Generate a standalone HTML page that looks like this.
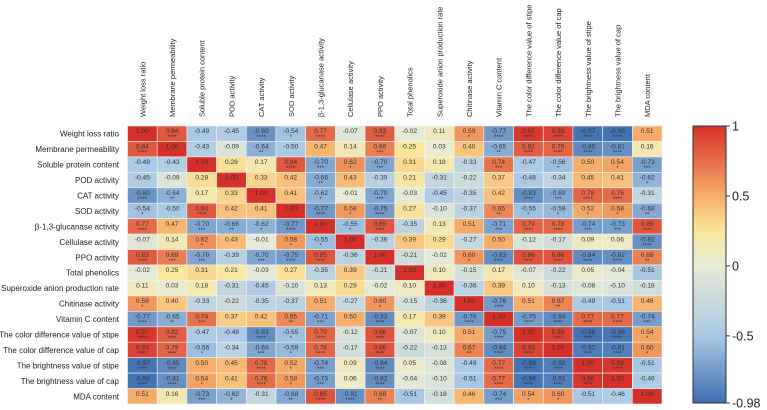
<!DOCTYPE html>
<html><head><meta charset="utf-8">
<style>
html,body{margin:0;padding:0;background:#fff;}
svg{display:block;font-family:"Liberation Sans",Arial,sans-serif;}
</style></head>
<body>
<svg id="chart" width="767" height="410" viewBox="0 0 767 410" xmlns="http://www.w3.org/2000/svg">
<defs>
<linearGradient id="cbgrad" x1="0" y1="0" x2="0" y2="1">
<stop offset="0" stop-color="#d6302a"/>
<stop offset="0.253" stop-color="#f6ae6a"/>
<stop offset="0.38" stop-color="#fbe59b"/>
<stop offset="0.505" stop-color="#e8ebd6"/>
<stop offset="0.757" stop-color="#a9c9e5"/>
<stop offset="1" stop-color="#3f6fb0"/>
</linearGradient>
</defs>
<g id="cells"></g>
<g id="collabels"></g>
<g id="rowlabels"></g>
<g>
<rect x="693" y="126" width="33" height="277" fill="url(#cbgrad)" stroke="#333" stroke-width="1"/>
</g>
<g id="cbticks"></g>
</svg>
<script>
const labels = ["Weight loss ratio","Membrane permeability","Soluble protein content","POD activity","CAT activity","SOD activity","β-1,3-glucanase activity","Cellulase activity","PPO activity","Total phenolics","Superoxide anion production rate","Chitinase activity","Vitamin C content","The color difference value of stipe","The color difference value of cap","The brightness value of stipe","The brightness value of cap","MDA content"];
const corr = [
[1.00,0.84,-0.49,-0.45,-0.80,-0.54,0.77,-0.07,0.83,-0.02,0.11,0.59,-0.77,0.97,0.93,-0.97,-0.98,0.51],
[0.84,1.00,-0.43,-0.09,-0.64,-0.50,0.47,0.14,0.69,0.25,0.03,0.40,-0.65,0.82,0.79,-0.85,-0.81,0.16],
[-0.49,-0.43,1.00,0.28,0.17,0.84,-0.70,0.62,-0.70,0.31,0.18,-0.33,0.74,-0.47,-0.56,0.50,0.54,-0.73],
[-0.45,-0.09,0.28,1.00,0.33,0.42,-0.66,0.43,-0.39,0.21,-0.31,-0.22,0.37,-0.48,-0.34,0.45,0.41,-0.62],
[-0.80,-0.64,0.17,0.33,1.00,0.41,-0.62,-0.01,-0.70,-0.03,-0.45,-0.35,0.42,-0.83,-0.69,0.78,0.76,-0.31],
[-0.54,-0.50,0.84,0.42,0.41,1.00,-0.77,0.58,-0.75,0.27,-0.10,-0.37,0.65,-0.55,-0.59,0.52,0.58,-0.68],
[0.77,0.47,-0.70,-0.66,-0.62,-0.77,1.00,-0.55,0.85,-0.35,0.13,0.51,-0.71,0.79,0.78,-0.74,-0.73,0.85],
[-0.07,0.14,0.62,0.43,-0.01,0.58,-0.55,1.00,-0.36,0.39,0.29,-0.27,0.50,-0.12,-0.17,0.09,0.06,-0.81],
[0.83,0.69,-0.70,-0.39,-0.70,-0.75,0.85,-0.36,1.00,-0.21,-0.02,0.60,-0.83,0.86,0.86,-0.84,-0.82,0.68],
[-0.02,0.25,0.31,0.21,-0.03,0.27,-0.35,0.39,-0.21,1.00,0.10,-0.15,0.17,-0.07,-0.22,0.05,-0.04,-0.51],
[0.11,0.03,0.18,-0.31,-0.45,-0.10,0.13,0.29,-0.02,0.10,1.00,-0.36,0.39,0.10,-0.13,-0.08,-0.10,-0.18],
[0.59,0.40,-0.33,-0.22,-0.35,-0.37,0.51,-0.27,0.60,-0.15,-0.36,1.00,-0.76,0.51,0.67,-0.49,-0.51,0.46],
[-0.77,-0.65,0.74,0.37,0.42,0.65,-0.71,0.50,-0.83,0.17,0.39,-0.76,1.00,-0.75,-0.84,0.77,0.77,-0.74],
[0.97,0.82,-0.47,-0.48,-0.83,-0.55,0.79,-0.12,0.86,-0.07,0.10,0.51,-0.75,1.00,0.93,-0.98,-0.96,0.54],
[0.93,0.79,-0.56,-0.34,-0.69,-0.59,0.78,-0.17,0.86,-0.22,-0.13,0.67,-0.84,0.93,1.00,-0.92,-0.91,0.60],
[-0.97,-0.85,0.50,0.45,0.78,0.52,-0.74,0.09,-0.84,0.05,-0.08,-0.49,0.77,-0.98,-0.92,1.00,0.98,-0.51],
[-0.98,-0.81,0.54,0.41,0.76,0.58,-0.73,0.06,-0.82,-0.04,-0.10,-0.51,0.77,-0.96,-0.91,0.98,1.00,-0.46],
[0.51,0.16,-0.73,-0.62,-0.31,-0.68,0.85,-0.81,0.68,-0.51,-0.18,0.46,-0.74,0.54,0.60,-0.51,-0.46,1.00]
];
const cbTickValues = [1, 0.5, 0, -0.5, -0.98];
const cbTickLabels = ["1","0.5","0","-0.5","-0.98"];

const NS = "http://www.w3.org/2000/svg";
const X0 = 127.5, X1 = 662, Y0 = 126, Y1 = 404;
const n = labels.length;
const cw = (X1 - X0) / n, ch = (Y1 - Y0) / n;
function xPos(j){ return X0 + j * cw; }
function yPos(i){ return Y0 + i * ch; }
function cbY(v){ return 126 + (1 - v) / (1 - (-0.98)) * 277; }

const stops = [[-1,[63,111,176]],[-0.5,[169,201,229]],[0,[232,235,214]],[0.25,[251,229,155]],[0.5,[246,174,106]],[1,[214,48,42]]];
function color(v){
  for (let k = 0; k < stops.length - 1; k++) {
    const a = stops[k], b = stops[k+1];
    if (v <= b[0] || k === stops.length - 2) {
      let t = (v - a[0]) / (b[0] - a[0]); t = Math.max(0, Math.min(1, t));
      const c = a[1].map((x, i) => Math.round(x + (b[1][i] - x) * t));
      return "rgb(" + c.join(",") + ")";
    }
  }
}
function stars(v, diag){
  if (diag) return "";
  const a = Math.abs(v);
  if (a >= 0.75) return "****";
  if (a >= 0.69) return "***";
  if (a >= 0.64) return "**";
  if (a >= 0.52) return "*";
  return "";
}

const cells = document.getElementById("cells");
for (let i = 0; i < n; i++) {
  for (let j = 0; j < n; j++) {
    const v = corr[i][j];
    const r = document.createElementNS(NS, "rect");
    r.setAttribute("x", xPos(j)); r.setAttribute("y", yPos(i));
    r.setAttribute("width", cw); r.setAttribute("height", ch);
    r.setAttribute("fill", color(v));
    r.setAttribute("stroke", "#f2f2f2"); r.setAttribute("stroke-width", "0.6");
    
    
    cells.appendChild(r);
    const t = document.createElementNS(NS, "text");
    t.setAttribute("x", xPos(j) + cw / 2); t.setAttribute("y", yPos(i) + 7.2);
    t.setAttribute("text-anchor", "middle"); t.setAttribute("font-size", "6.6");
    t.setAttribute("fill", "#333");
    t.textContent = v.toFixed(2);
    
    
    cells.appendChild(t);
    const s = stars(v, i === j);
    if (s) {
      const st = document.createElementNS(NS, "text");
      st.setAttribute("x", xPos(j) + cw / 2); st.setAttribute("y", yPos(i) + 13.2);
      st.setAttribute("text-anchor", "middle"); st.setAttribute("font-size", "6");
      st.setAttribute("fill", "#333");
      st.textContent = s;
      
      
      cells.appendChild(st);
    }
  }
}
const colG = document.getElementById("collabels");
const rowG = document.getElementById("rowlabels");
for (let k = 0; k < n; k++) {
  const c = document.createElementNS(NS, "text");
  const cx = xPos(k) + cw / 2 + 3, cy = 117;
  c.setAttribute("x", cx); c.setAttribute("y", cy);
  c.setAttribute("transform", "rotate(-90 " + cx + " " + cy + ")");
  c.setAttribute("font-size", "7.5"); c.setAttribute("fill", "#222");
  c.textContent = labels[k];
  
  
  colG.appendChild(c);
  const r = document.createElementNS(NS, "text");
  r.setAttribute("x", 119); r.setAttribute("y", yPos(k) + ch / 2 + 3);
  r.setAttribute("text-anchor", "end");
  r.setAttribute("font-size", "8"); r.setAttribute("fill", "#222");
  r.textContent = labels[k];
  
  
  rowG.appendChild(r);
}
const cbG = document.getElementById("cbticks");
for (let k = 0; k < cbTickValues.length; k++) {
  const y = cbY(cbTickValues[k]);
  const l = document.createElementNS(NS, "line");
  l.setAttribute("x1", 726); l.setAttribute("x2", 730);
  l.setAttribute("y1", y); l.setAttribute("y2", y);
  l.setAttribute("stroke", "#333"); l.setAttribute("stroke-width", "1");
  
  
  cbG.appendChild(l);
  const t = document.createElementNS(NS, "text");
  t.setAttribute("x", 732); t.setAttribute("y", y + 4.5);
  t.setAttribute("font-size", "12.5"); t.setAttribute("fill", "#222");
  t.textContent = cbTickLabels[k];
  
  
  cbG.appendChild(t);
}
</script>
</body></html>
